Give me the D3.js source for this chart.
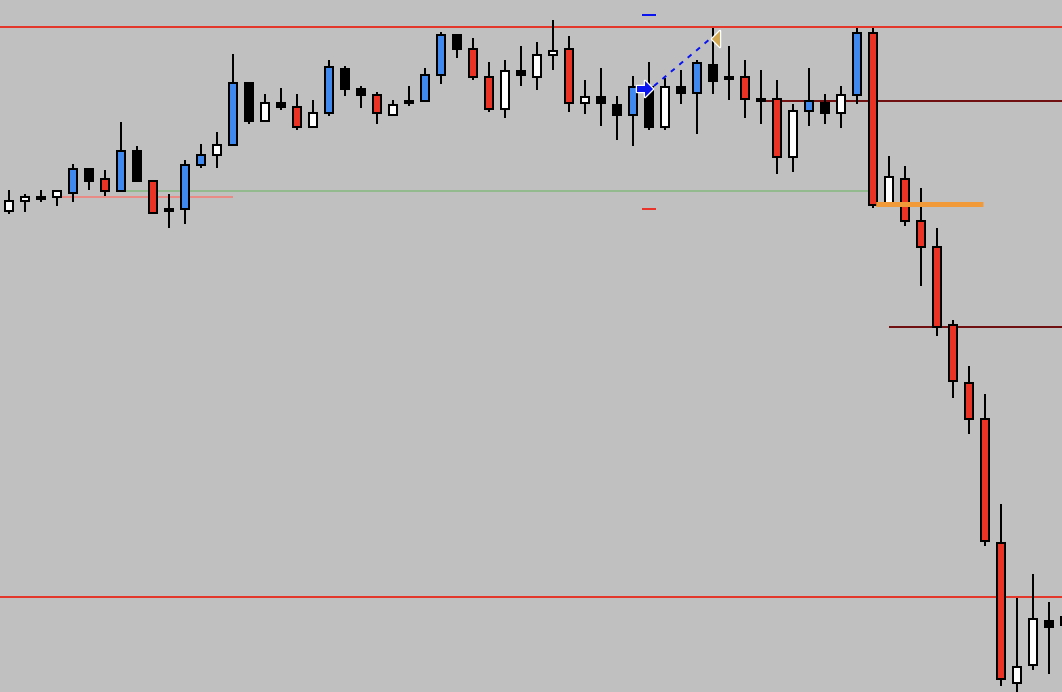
<!DOCTYPE html>
<html>
<head>
<meta charset="utf-8">
<script src="https://cdn.jsdelivr.net/npm/d3@7"></script>
<style>
  html, body { margin: 0; padding: 0; background: #c0c0c0; overflow: hidden; }
  svg { display: block; }
</style>
</head>
<body>
<svg class="chart"></svg>
<script>
//Candle prices (points), one entry per bar
var opens  = [488,498,504,502,506,532,522,508,550,520,492,490,534,544,554,618,578,598,594,572,586,632,612,606,584,600,598,624,666,652,624,590,630,622,644,652,596,604,596,584,614,572,614,606,636,624,624,602,602,542,588,598,586,604,668,496,522,480,454,376,318,282,158,16,34,80,84];
var highs  = [510,506,510,510,536,532,530,578,554,520,506,540,556,568,646,618,606,612,606,600,640,634,614,608,600,614,632,668,666,662,638,640,654,658,680,664,620,632,604,624,638,622,630,640,672,654,640,630,620,596,632,606,614,672,672,544,534,512,472,380,334,306,196,102,126,98,90];
var lows   = [486,488,498,494,498,510,504,508,518,486,472,476,532,532,554,576,578,590,570,572,584,604,592,576,584,594,598,616,642,620,588,582,614,610,630,588,586,574,560,554,570,570,596,566,606,600,582,576,526,528,574,576,572,596,492,495,474,414,364,302,266,154,14,6,30,26,68];
var closes = [500,504,500,510,532,518,508,550,518,486,488,536,546,556,618,578,598,592,572,588,634,610,604,586,596,596,626,666,650,622,590,630,624,646,650,596,604,596,584,614,572,614,606,638,618,620,600,598,542,590,600,586,606,668,494,524,478,452,372,318,280,158,20,34,82,72,74];
//Bars flagged by the colouring indicator
var marked = [0,0,0,0,1,0,1,1,0,1,0,1,1,0,1,0,0,0,1,0,1,0,0,1,0,0,1,1,0,1,1,0,0,0,0,1,0,0,0,1,0,0,0,1,0,0,1,0,1,0,1,0,0,1,1,0,1,1,1,1,1,1,1,0,0,0,0];

//Horizontal levels: price, first bar, last bar (null = to the edge)
var levelPrices = [673, 103, 599, 373, 509, 503];
var levelFrom   = [null, null, 47, 55, 7, 3];
var levelTo     = [null, null, null, null, 54, 14];
var levelKinds  = ["red", "red", "maroon", "maroon", "green", "pink"];

//Orange level drawn over the bars
var orangeLevel = {price: 495.5, from: 54.2, to: 60.9};

//The trade: entry, exit, stop and target
var trade = {openBar: 40, openPrice: 611, closeBar: 44, closePrice: 661, stop: 491, target: 685};

(function(){
    var w = 1062, h = 692;
    var svg = d3.select(".chart").attr("width", w).attr("height", h);

    svg.append("rect").attr("width", w).attr("height", h).style("fill", "#c0c0c0");

    var x = d3.scaleLinear().domain([0, 66]).range([9, 1065]);
    var y = d3.scaleLinear().domain([8, 700]).range([692, 0]);

    var levelColor = {red: "#e3372b", maroon: "#701010", green: "#93ba8f", pink: "#e88a86"};

    //Levels behind the bars
    var levels = svg.append("g").attr("shape-rendering", "crispEdges");
    levelPrices.forEach(function(p, i){
        levels.append("line")
            .attr("x1", levelFrom[i] === null ? 0 : x(levelFrom[i]))
            .attr("x2", levelTo[i] === null ? w : x(levelTo[i]))
            .attr("y1", Math.round(y(p)))
            .attr("y2", Math.round(y(p)))
            .style("stroke", levelColor[levelKinds[i]])
            .style("stroke-width", 2);
    });

    //Candles
    var bars = svg.append("g").attr("shape-rendering", "crispEdges");
    opens.forEach(function(o, i){
        var c = closes[i];
        var bull = c > o;
        var fill = bull ? (marked[i] ? "#4089ef" : "#ffffff") : (marked[i] ? "#ea3324" : "#000000");
        var cx = x(i);

        //wick
        bars.append("rect")
            .attr("x", cx - 1)
            .attr("y", y(highs[i]))
            .attr("width", 2)
            .attr("height", y(lows[i]) - y(highs[i]))
            .style("fill", "#000");

        //body, outlined in black
        var top = y(Math.max(o, c)), bottom = y(Math.min(o, c));
        bars.append("rect")
            .attr("x", cx - 4)
            .attr("y", top + 1)
            .attr("width", 8)
            .attr("height", Math.max(bottom - top - 2, 0.5))
            .style("fill", fill)
            .style("stroke", "#000")
            .style("stroke-width", 2);
    });

    //Orange level
    svg.append("line")
        .attr("x1", x(orangeLevel.from))
        .attr("x2", x(orangeLevel.to))
        .attr("y1", y(orangeLevel.price))
        .attr("y2", y(orangeLevel.price))
        .style("stroke", "#f09a3a")
        .style("stroke-width", 5);

    //Stop and target dashes
    var marks = svg.append("g").attr("shape-rendering", "crispEdges");
    [[trade.target, "#0a14f0"], [trade.stop, "#e8342a"]].forEach(function(d){
        marks.append("line")
            .attr("x1", x(trade.openBar) - 7)
            .attr("x2", x(trade.openBar) + 7)
            .attr("y1", Math.round(y(d[0])))
            .attr("y2", Math.round(y(d[0])))
            .style("stroke", d[1])
            .style("stroke-width", 2);
    });

    //Dotted path from entry to exit
    svg.append("line")
        .attr("x1", x(trade.openBar) + 5)
        .attr("y1", y(trade.openPrice) - 3)
        .attr("x2", x(trade.closeBar) - 3)
        .attr("y2", y(trade.closePrice))
        .style("stroke", "#0a14f0")
        .style("stroke-width", 2)
        .style("stroke-dasharray", "5,6");

    //Entry arrow
    svg.append("path")
        .attr("transform", "translate(" + (x(trade.openBar) + 4) + "," + y(trade.openPrice) + ")")
        .attr("d", "M0,0 L-8,-8 L-8,-3 L-16,-3 L-16,3 L-8,3 L-8,8 Z")
        .style("fill", "#0a14f0")
        .style("stroke", "#fff")
        .style("stroke-width", 2.5)
        .style("stroke-linejoin", "round")
        .style("paint-order", "stroke");

    //Exit triangle
    svg.append("path")
        .attr("transform", "translate(" + (x(trade.closeBar) - 1) + "," + y(trade.closePrice) + ")")
        .attr("d", "M0,0 L8,-8 L8,8 Z")
        .style("fill", "#d2a852")
        .style("stroke", "#fff")
        .style("stroke-width", 2.5)
        .style("stroke-linejoin", "round")
        .style("paint-order", "stroke");
})();
</script>
</body>
</html>
